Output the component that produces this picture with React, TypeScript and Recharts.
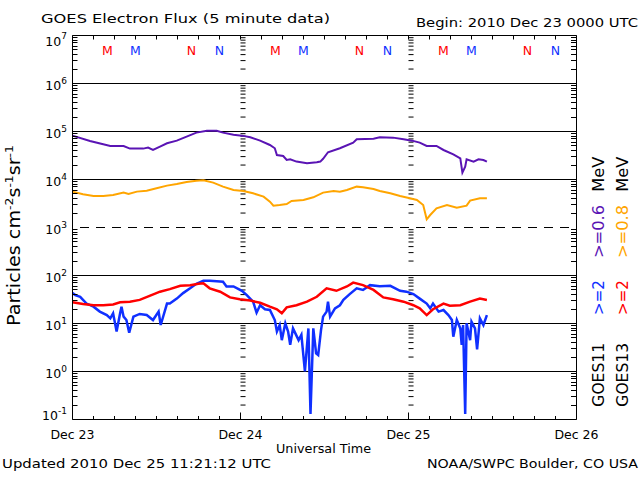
import React from 'react';
import { ComposedChart, Line, XAxis, YAxis, ReferenceLine } from 'recharts';

const FONT = '"DejaVu Sans", sans-serif';

// Time axis: hours since 2010 Dec 23 00:00 UTC
const dayLabels = ['Dec 23', 'Dec 24', 'Dec 25', 'Dec 26'];
const xTicks = [0, 3, 6, 9, 12, 15, 18, 21, 24, 27, 30, 33, 36, 39, 42, 45, 48, 51, 54, 57, 60, 63, 66, 69, 72];
const dayBoundaries = [24, 48];

// Flux axis (log)
const majorY = [0.1, 1, 10, 100, 1000, 10000, 100000, 1000000, 10000000];
const mantissas = [2, 3, 4, 5, 6, 7, 8, 9];
const minorY = majorY.slice(0, -1).flatMap((d) => mantissas.map((m) => +(m * d).toPrecision(3)));
const solidGrid = [1, 10, 100, 10000, 100000, 1000000];
const dashedGrid = [1000];

// GOES11 >=0.6 MeV (purple)
const g11LowHours = [0, 2.5, 5.4, 7.3, 8.2, 10.1, 10.8, 11.5, 12.5, 13.5, 14.9, 16.3, 17.7, 19.2, 20.6, 21.5, 23.0, 24.2, 25.4, 26.8, 28.2, 28.9, 29.2, 30.1, 30.6, 31.1, 32.0, 33.5, 34.9, 35.4, 35.8, 36.5, 38.2, 40.1, 40.6, 43.0, 43.9, 45.8, 47.3, 48.5, 49.6, 50.6, 52.0, 53.0, 54.4, 55.4, 55.7, 56.1, 56.3, 57.3, 58.0, 58.7, 59.2];
const g11LowFlux = [82000, 63500, 49900, 49900, 44000, 44000, 46100, 41200, 48300, 56800, 64500, 78100, 94700, 104000, 104000, 94700, 85900, 82000, 76000, 64500, 52400, 44700, 32400, 30900, 25500, 26300, 23600, 21700, 22800, 23600, 27000, 37000, 44700, 58600, 68800, 71000, 75700, 74500, 68800, 64500, 58600, 49900, 49900, 41200, 33500, 27600, 13900, 18500, 26300, 23600, 26300, 25500, 23600];

// GOES13 >=0.8 MeV (orange)
const g13LowHours = [0, 1.5, 3.0, 4.4, 5.8, 7.3, 8.0, 9.2, 10.6, 12.0, 13.5, 14.9, 16.3, 17.7, 18.7, 20.1, 21.5, 23.0, 24.4, 25.8, 27.3, 28.2, 28.7, 29.6, 30.6, 31.3, 33.0, 34.4, 35.8, 37.3, 38.2, 39.2, 40.6, 41.5, 43.0, 43.9, 45.4, 46.8, 48.2, 49.2, 50.1, 50.6, 51.1, 52.0, 53.5, 54.9, 56.3, 56.8, 58.2, 59.2];
const g13LowFlux = [5590, 4910, 4540, 4540, 4760, 5330, 4990, 5590, 5860, 6550, 7450, 8070, 8880, 9460, 9620, 8600, 7100, 6050, 5770, 5160, 4390, 3460, 2850, 2950, 3090, 3570, 3740, 4250, 5330, 5770, 5590, 6050, 7100, 6870, 6340, 5770, 5160, 4540, 4060, 3740, 2950, 1480, 1820, 2510, 2950, 2590, 2850, 3630, 4060, 4060];

// GOES13 >=2 MeV (red)
const g13HighHours = [0, 1.5, 3.0, 4.4, 5.8, 6.8, 8.2, 9.6, 11.1, 12.5, 13.9, 15.4, 16.8, 18.0, 18.7, 19.6, 21.1, 22.5, 23.9, 25.4, 26.8, 28.2, 29.2, 29.9, 30.6, 32.0, 33.5, 34.9, 36.3, 37.7, 39.2, 40.1, 41.5, 43.0, 44.4, 45.8, 47.3, 48.7, 49.6, 50.6, 51.5, 53.0, 53.9, 55.4, 56.8, 58.2, 59.2];
const g13HighFlux = [27.6, 25.5, 24, 24, 25, 27.6, 28.5, 31, 38, 46, 52, 61, 63, 67, 69, 54, 46, 35, 32, 30, 27, 22.4, 19.8, 16.3, 21.7, 24, 28.5, 36, 54, 48, 59, 71, 63, 50, 35, 32, 28.5, 24, 20.7, 15, 19.8, 26, 23.5, 24, 28.5, 33, 31];

// GOES11 >=2 MeV (blue)
const g11HighHours = [0, 0.4, 1.1, 2.0, 3.0, 3.9, 4.9, 5.4, 5.8, 6.3, 6.8, 7.0, 7.3, 7.7, 8.1, 8.7, 9.6, 10.6, 11.5, 12.3, 12.6, 13.5, 13.9, 14.9, 15.8, 16.8, 17.7, 18.7, 19.6, 20.6, 21.5, 22.0, 23.0, 24.2, 24.9, 25.8, 26.3, 26.8, 27.5, 28.2, 28.9, 29.2, 29.6, 29.9, 30.4, 30.8, 31.1, 31.5, 32.3, 32.7, 33.2, 33.7, 34.0, 34.4, 34.8, 35.1, 35.5, 35.8, 36.3, 36.5, 36.8, 37.5, 38.2, 38.7, 39.6, 40.6, 41.5, 42.5, 43.9, 45.4, 46.8, 47.7, 48.7, 49.6, 50.6, 51.1, 51.5, 52.3, 53.0, 53.7, 54.2, 54.4, 54.9, 55.4, 55.6, 55.8, 56.1, 56.3, 56.8, 57.0, 57.5, 57.8, 58.2, 58.7, 59.2];
const g11HighFlux = [43, 39, 36, 26, 22.4, 17.7, 15, 12.8, 16.3, 6.8, 16.3, 22.4, 13.9, 11.8, 6.4, 13.9, 15.8, 15, 11.8, 17.7, 9.3, 26, 26, 33, 43, 54, 67, 78, 78, 76, 74, 59, 59, 48, 39, 28.5, 16.8, 24, 19.8, 19.1, 11.8, 6.8, 9.3, 4.5, 10.1, 6.8, 3.6, 7.9, 4.5, 5.8, 1.0, 7.9, 0.13, 7.9, 2.4, 2.2, 7.3, 13.9, 17.7, 28.5, 13.9, 20.7, 24, 31, 41, 54, 50, 63, 60, 61, 48, 46, 41, 33, 26, 20.7, 26, 17.7, 19.1, 15, 11.8, 5.3, 11.8, 7.9, 3.6, 9.3, 0.13, 10.1, 4.5, 10.9, 7.9, 2.9, 12.8, 9.3, 15];

// Local midnight (M) / noon (N) markers
const markerHours = [5, 9, 17, 21, 29, 33, 41, 45, 53, 57, 65, 69];
const markerText = ['M', 'M', 'N', 'N', 'M', 'M', 'N', 'N', 'M', 'M', 'N', 'N'];
const markerSat = ['13', '11', '13', '11', '13', '11', '13', '11', '13', '11', '13', '11'];

const toSeries = (hours: number[], vals: number[]) => hours.map((h, i) => ({ h, v: vals[i] }));

const COLORS = {
  purple: '#5a14b4',
  orange: '#ffa500',
  red: '#ff0000',
  blue: '#1030ff',
};
const satColor: Record<string, string> = { '13': COLORS.red, '11': COLORS.blue };

const snap = (v: number) => Math.round(v - 0.5) + 0.5;

const isMajorVal = (v: number) => {
  const l = Math.log10(v);
  return Math.abs(l - Math.round(l)) < 1e-6;
};

const LeftTick = (props: any) => {
  const { x, y, payload } = props;
  const v = payload.value;
  if (!isMajorVal(v)) {
    const yy = snap(y);
    return <line x1={x} x2={x + 5} y1={yy} y2={yy} stroke="#000" strokeWidth={1} />;
  }
  const exp = Math.round(Math.log10(v));
  const dy = exp === 7 ? 10 : exp === -1 ? 0.5 : 6.5;
  return (
    <text x={x - 5.5} y={y + dy} textAnchor="end" fill="#000" fontSize={12.5} fontFamily={FONT}>
      10
      <tspan dy={-6.5} fontSize={9}>
        {String(exp)}
      </tspan>
    </text>
  );
};

const RightTick = (props: any) => {
  const { x, y, payload } = props;
  const v = payload.value;
  if (isMajorVal(v)) return <g />;
  const yy = snap(y);
  return <line x1={x - 5.5} x2={x} y1={yy} y2={yy} stroke="#000" strokeWidth={1} />;
};

const BottomTick = (props: any) => {
  const { x, y, payload } = props;
  const h = payload.value;
  const isDay = h % 24 === 0;
  return (
    <g>
      <line x1={x} x2={x} y1={y} y2={y - (isDay ? 7 : 3.5)} stroke="#000" strokeWidth={1} />
      {isDay && (
        <text x={x} y={y + 19} textAnchor="middle" fill="#000" fontSize={12.5} fontFamily={FONT}>
          {dayLabels[h / 24]}
        </text>
      )}
    </g>
  );
};

const TopTick = (props: any) => {
  const { x, y } = props;
  return <line x1={x} x2={x} y1={y} y2={y + 4} stroke="#000" strokeWidth={1} />;
};

const rightLabels = [
  { b: 603.5, c: 374.8, L: 63.7, t: 'GOES11', col: '#000' },
  { b: 603.5, c: 297.5, L: 35, t: '>=2', col: COLORS.blue },
  { b: 603.5, c: 231.5, L: 53, t: '>=0.6', col: COLORS.purple },
  { b: 603.5, c: 174.2, L: 35, t: 'MeV', col: '#000' },
  { b: 627.5, c: 374.8, L: 63.7, t: 'GOES13', col: '#000' },
  { b: 627.5, c: 297.5, L: 35, t: '>=2', col: COLORS.red },
  { b: 627.5, c: 231.5, L: 53, t: '>=0.8', col: COLORS.orange },
  { b: 627.5, c: 174.2, L: 35, t: 'MeV', col: '#000' },
];

export default function App() {
  const purpleData = toSeries(g11LowHours, g11LowFlux);
  const orangeData = toSeries(g13LowHours, g13LowFlux);
  const redData = toSeries(g13HighHours, g13HighFlux);
  const blueData = toSeries(g11HighHours, g11HighFlux);
  const ax = { xAxisId: 'bottom', yAxisId: 'left' } as const;

  return (
    <div style={{ position: 'absolute', left: 0, top: 0, width: 640, height: 480, background: '#fff', fontFamily: FONT }}>
      <ComposedChart width={640} height={480} margin={{ top: 0, right: 0, bottom: 0, left: 0 }}>
        <XAxis
          xAxisId="bottom"
          dataKey="h"
          type="number"
          domain={[0, 72]}
          ticks={xTicks}
          interval={0}
          allowDataOverflow
          orientation="bottom"
          height={60.5}
          tickLine={false}
          tickSize={0}
          tickMargin={0}
          axisLine={{ stroke: '#000', strokeWidth: 1 }}
          tick={<BottomTick />}
        />
        <XAxis
          xAxisId="top"
          dataKey="h"
          type="number"
          domain={[0, 72]}
          ticks={xTicks}
          interval={0}
          allowDataOverflow
          orientation="top"
          height={35.5}
          tickLine={false}
          tickSize={0}
          tickMargin={0}
          axisLine={{ stroke: '#000', strokeWidth: 1 }}
          tick={<TopTick />}
        />
        <YAxis
          yAxisId="left"
          type="number"
          scale="log"
          domain={[0.1, 10000000]}
          ticks={[...majorY, ...minorY]}
          interval={0}
          allowDataOverflow
          width={72.5}
          tickLine={false}
          tickSize={0}
          tickMargin={0}
          axisLine={{ stroke: '#000', strokeWidth: 1 }}
          tick={<LeftTick />}
        />
        <YAxis
          yAxisId="right"
          orientation="right"
          type="number"
          scale="log"
          domain={[0.1, 10000000]}
          ticks={[...majorY, ...minorY]}
          interval={0}
          allowDataOverflow
          width={63.5}
          tickLine={false}
          tickSize={0}
          tickMargin={0}
          axisLine={{ stroke: '#000', strokeWidth: 1 }}
          tick={<RightTick />}
        />

        {solidGrid.map((v) => (
          <ReferenceLine key={'g' + v} {...ax} y={v} stroke="#000" strokeWidth={1} />
        ))}
        {dashedGrid.map((v) => (
          <ReferenceLine key={'d' + v} {...ax} y={v} stroke="#000" strokeWidth={1} strokeDasharray="9 7" strokeDashoffset={8.5} />
        ))}
        {dayBoundaries.flatMap((d) =>
          minorY.map((v) => (
            <ReferenceLine
              key={'t' + d + '_' + v}
              {...ax}
              segment={[{ x: d, y: v }, { x: d + 0.72, y: v }]}
              stroke="#000"
              strokeWidth={1}
              ifOverflow="visible"
            />
          ))
        )}
        {markerHours.map((h, i) => (
          <ReferenceLine
            key={'m' + i}
            {...ax}
            x={h}
            stroke="none"
            strokeOpacity={0}
            label={{ value: markerText[i], position: 'insideTop', offset: 10.5, fill: satColor[markerSat[i]], fontSize: 12.5, fontFamily: FONT }}
          />
        ))}

        <Line data={purpleData} dataKey="v" xAxisId="top" yAxisId="right" type="linear" stroke={COLORS.purple} strokeWidth={2} dot={false} activeDot={false} isAnimationActive={false} />
        <Line data={orangeData} dataKey="v" xAxisId="top" yAxisId="right" type="linear" stroke={COLORS.orange} strokeWidth={2} dot={false} activeDot={false} isAnimationActive={false} />
        <Line data={blueData} dataKey="v" {...ax} type="linear" stroke={COLORS.blue} strokeWidth={2.5} dot={false} activeDot={false} isAnimationActive={false} />
        <Line data={redData} dataKey="v" {...ax} type="linear" stroke={COLORS.red} strokeWidth={2.5} dot={false} activeDot={false} isAnimationActive={false} />
      </ComposedChart>

      <svg width={640} height={480} style={{ position: 'absolute', left: 0, top: 0, pointerEvents: 'none' }} fontFamily={FONT}>
        <text x={41} y={22.5} fontSize={12.5} fill="#000" textLength={289} lengthAdjust="spacingAndGlyphs">
          GOES Electron Flux (5 minute data)
        </text>
        <text x={416} y={26.5} fontSize={12.5} fill="#000" textLength={222} lengthAdjust="spacingAndGlyphs">
          Begin: 2010 Dec 23 0000 UTC
        </text>
        <text x={276} y={452.7} fontSize={12.5} fill="#000" textLength={95} lengthAdjust="spacingAndGlyphs">
          Universal Time
        </text>
        <text x={2} y={467.5} fontSize={12.5} fill="#000" textLength={269} lengthAdjust="spacingAndGlyphs">
          Updated 2010 Dec 25 11:21:12 UTC
        </text>
        <text x={427} y={467.5} fontSize={12.5} fill="#000" textLength={211} lengthAdjust="spacingAndGlyphs">
          NOAA/SWPC Boulder, CO USA
        </text>
        <text transform="translate(20,235.5) rotate(-90)" textAnchor="middle" fontSize={17} fill="#000" textLength={181} lengthAdjust="spacingAndGlyphs">
          Particles cm
          <tspan dy={-7} fontSize={11}>-2</tspan>
          <tspan dy={7}>s</tspan>
          <tspan dy={-7} fontSize={11}>-1</tspan>
          <tspan dy={7}>sr</tspan>
          <tspan dy={-7} fontSize={11}>-1</tspan>
        </text>
        {rightLabels.map((r, i) => (
          <text
            key={i}
            transform={`translate(${r.b},${r.c}) rotate(-90)`}
            textAnchor="middle"
            fontSize={16.5}
            fill={r.col}
            textLength={r.L}
            lengthAdjust="spacingAndGlyphs"
          >
            {r.t}
          </text>
        ))}
      </svg>
    </div>
  );
}
